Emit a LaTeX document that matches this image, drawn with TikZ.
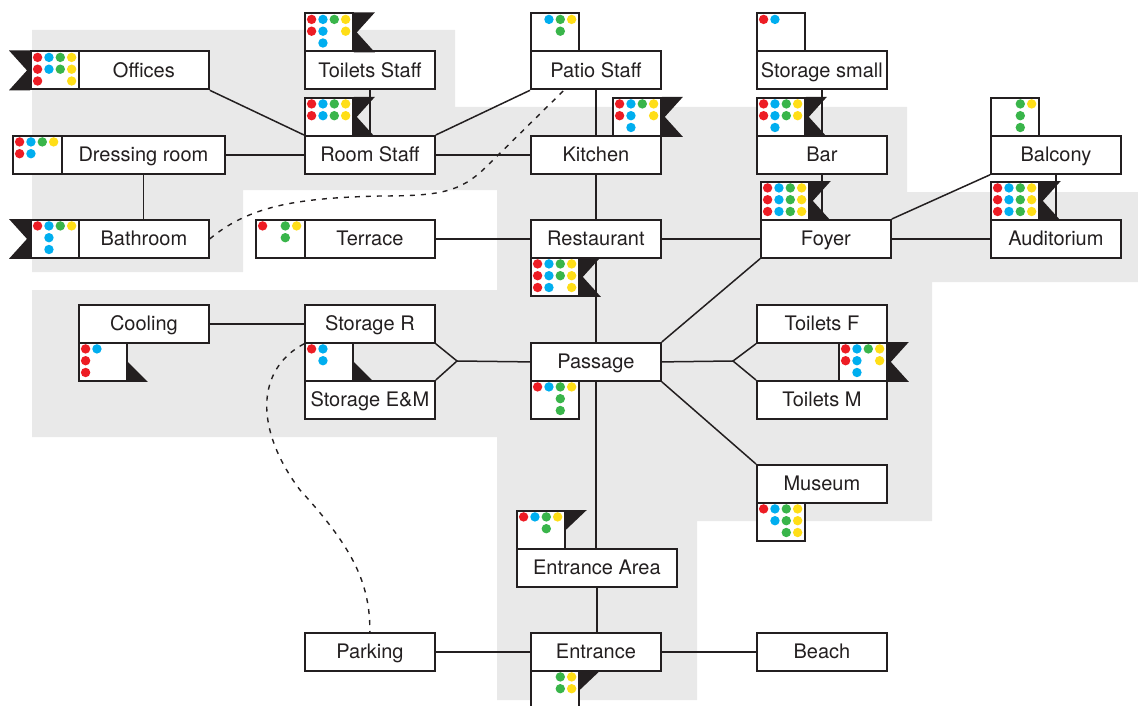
\documentclass[tikz,border=0pt]{standalone}
\usepackage{fontspec}
\setmainfont{TeX Gyre Heros}
\usetikzlibrary{calc}
\definecolor{ink}{HTML}{231F20}
\definecolor{bg}{HTML}{E9E9E9}
\definecolor{cR}{HTML}{ED1C24}
\definecolor{cB}{HTML}{00AEEF}
\definecolor{cG}{HTML}{39B54A}
\definecolor{cY}{HTML}{FFDE17}
\newcommand\dotz[2]{\foreach \cc/\rr/\kk in {#2}{\fill[\kk] ($(#1.north west)+(7.6+11.35*\cc,6.9+11.8*\rr)$) circle[radius=4.7pt];}}
\newcommand\flagR[1]{\fill[ink] (#1.north east) -- ++(21,0) -- ($(#1.east)+(3,0)$) -- ($(#1.south east)+(21,0)$) -- (#1.south east) -- cycle;}
\newcommand\flagL[1]{\fill[ink] (#1.north west) -- ++(-21,0) -- ($(#1.west)+(-3,0)$) -- ($(#1.south west)+(-21,0)$) -- (#1.south west) -- cycle;}
\newcommand\flagLow[1]{\fill[ink] (#1.east) -- ($(#1.south east)+(20,0)$) -- (#1.south east) -- cycle;}
\newcommand\flagUp[1]{\fill[ink] (#1.north east) -- ++(21,0) -- (#1.east) -- cycle;}
\begin{document}
\begin{tikzpicture}[x=1pt,y=-1pt,
  room/.style={draw=ink, line width=1.8pt, fill=white, minimum height=38pt, minimum width=130pt, inner sep=0pt, anchor=north west, text height=14pt, text depth=0pt, font=\fontsize{20}{22}\selectfont, text=ink},
  badge/.style={draw=ink, line width=1.8pt, fill=white, minimum height=38pt, minimum width=48pt, inner sep=0pt, anchor=north west},
  link/.style={draw=ink, line width=1.5pt},
  walk/.style={draw=ink, line width=1.4pt, dash pattern=on 5pt off 6pt},
]
\useasboundingbox (0,0) rectangle (1138,706);
\fill[bg] (32,30) -- (455,30) -- (455,107) -- (907,107) -- (907,192) -- (1138,192) -- (1138,282) -- (932,282) -- (932,521) -- (697,521) -- (697,700) -- (497,700) -- (497,437) -- (32,437) -- (32,290) -- (497,290) -- (497,190) -- (243,190) -- (243,272) -- (32,272) -- cycle;

% rooms
\node[room] (offices) at (78,50.5) {Offices};
\node[room] (toiletsstaff) at (304,50.5) {Toilets Staff};
\node[room] (patio) at (530,50.5) {Patio Staff};
\node[room] (storsmall) at (756,50.5) {Storage small};
\node[room, minimum width=163pt] (dressing) at (61,135) {Dressing room};
\node[room] (roomstaff) at (304,135) {Room Staff};
\node[room] (kitchen) at (530,135) {Kitchen};
\node[room] (bar) at (756,135) {Bar};
\node[room] (balcony) at (990,135) {Balcony};
\node[room] (bathroom) at (78,219) {Bathroom};
\node[room] (terrace) at (304,219) {Terrace};
\node[room] (restaurant) at (530,219) {Restaurant};
\node[room] (foyer) at (760,219) {Foyer};
\node[room] (auditorium) at (990,219) {Auditorium};
\node[room] (cooling) at (78,304) {Cooling};
\node[room] (storR) at (304,304) {Storage R};
\node[room] (toiletsF) at (756,304) {Toilets F};
\node[room] (passage) at (530,342) {Passage};
\node[room] (storEM) at (304,380) {Storage E\&M};
\node[room] (toiletsM) at (756,380) {Toilets M};
\node[room] (museum) at (756,464) {Museum};
\node[room, minimum width=160pt] (entrArea) at (516,548) {Entrance Area};
\node[room] (entrance) at (530,632) {Entrance};
\node[room] (parking) at (304,632) {Parking};
\node[room] (beach) at (756,632) {Beach};

\coordinate (forkL) at (457,361);
\coordinate (forkR) at (733,361);
\coordinate (patioDash) at ($(patio.south)+(-32,0)$);

% connectors
\draw[link] (offices.south east) -- (roomstaff.north west);
\draw[link] (dressing.east) -- (roomstaff.west);
\draw[link] (dressing.south) -- (dressing.south |- bathroom.north);
\draw[link] (toiletsstaff.south) -- (roomstaff.north);
\draw[link] (roomstaff.north east) -- (patio.south west);
\draw[link] (roomstaff.east) -- (kitchen.west);
\draw[link] (patio.south) -- (kitchen.north);
\draw[link] (kitchen.south) -- (restaurant.north);
\draw[link] (storsmall.south) -- (bar.north);
\draw[link] (bar.south) -- (bar.south |- foyer.north);
\draw[link] (balcony.south) -- (auditorium.north);
\draw[link] (terrace.east) -- (restaurant.west);
\draw[link] (restaurant.east) -- (foyer.west);
\draw[link] (foyer.east) -- (auditorium.west);
\draw[link] (foyer.north east) -- (balcony.south west);
\draw[link] (restaurant.south) -- (passage.north);
\draw[link] (cooling.east) -- (storR.west);
\draw[link] (storR.south east) -- (forkL) -- (storEM.north east);
\draw[link] (forkL) -- (passage.west);
\draw[link] (passage.east) -- (forkR);
\draw[link] (toiletsF.south west) -- (forkR) -- (toiletsM.north west);
\draw[link] (passage.north east) -- (foyer.south west);
\draw[link] (passage.south east) -- (museum.north west);
\draw[link] (passage.south) -- (passage.south |- entrArea.north);
\draw[link] (entrArea.south) -- (entrArea.south |- entrance.north);
\draw[link] (parking.east) -- (entrance.west);
\draw[link] (entrance.east) -- (beach.west);

\draw[walk] (bathroom.east) .. controls (250,205) and (300,198) .. (380,196) .. controls (440,196) and (460,192) .. (485,168) -- (patioDash);
\draw[walk] (storR.south west) .. controls (255,370) and (255,430) .. (300,490) .. controls (355,550) and (370,585) .. (parking.north);

% badges
\node[badge] (offB) at (30,50.5) {};
\node[badge] (tsB) at (304,12.5) {};
\node[badge] (rsB) at (304,97) {};
\node[badge] (patB) at (530,12.5) {};
\node[badge] (kitB) at (612,97) {};
\node[badge] (ssB) at (756,12.5) {};
\node[badge] (barB) at (756,97) {};
\node[badge, minimum width=49pt] (drB) at (12,135) {};
\node[badge] (bathB) at (30,219) {};
\node[badge, minimum width=49pt] (terB) at (255,219) {};
\node[badge] (foyB) at (760,181) {};
\node[badge] (balB) at (990,97) {};
\node[badge] (audB) at (990,181) {};
\node[badge] (resB) at (530,257) {};
\node[badge] (coolB) at (78,342) {};
\node[badge] (srB) at (304,342) {};
\node[badge] (tfB) at (838,342) {};
\node[badge] (pasB) at (530,380) {};
\node[badge] (musB) at (756,502) {};
\node[badge] (eaB) at (516,510) {};
\node[badge] (entB) at (530,670) {};

% dots
\dotz{offB}{0/0/cR,1/0/cB,2/0/cG,3/0/cY,0/1/cR,1/1/cB,2/1/cG,3/1/cY,0/2/cR,3/2/cY}
\dotz{tsB}{0/0/cR,1/0/cB,2/0/cG,3/0/cY,0/1/cR,1/1/cB,3/1/cY,1/2/cB}
\dotz{rsB}{0/0/cR,1/0/cB,2/0/cG,3/0/cY,0/1/cR,1/1/cB,2/1/cG,3/1/cY}
\dotz{patB}{1/0/cB,2/0/cG,3/0/cY,2/1/cG}
\dotz{kitB}{0/0/cR,1/0/cB,2/0/cG,3/0/cY,0/1/cR,1/1/cB,3/1/cY,1/2/cB}
\dotz{ssB}{0/0/cR,1/0/cB}
\dotz{barB}{0/0/cR,1/0/cB,2/0/cG,3/0/cY,0/1/cR,1/1/cB,2/1/cG,3/1/cY,1/2/cB}
\dotz{drB}{0/0/cR,1/0/cB,2/0/cG,3/0/cY,0/1/cR,1/1/cB}
\dotz{bathB}{0/0/cR,1/0/cB,2/0/cG,3/0/cY,1/1/cB,1/2/cB}
\dotz{terB}{0/0/cR,2/0/cG,3/0/cY,2/1/cG}
\dotz{foyB}{0/0/cR,1/0/cB,2/0/cG,3/0/cY,0/1/cR,1/1/cB,2/1/cG,3/1/cY,0/2/cR,1/2/cB,2/2/cG,3/2/cY}
\dotz{balB}{2/0/cG,3/0/cY,2/1/cG,2/2/cG}
\dotz{audB}{0/0/cR,1/0/cB,2/0/cG,3/0/cY,0/1/cR,1/1/cB,2/1/cG,3/1/cY,0/2/cR,1/2/cB,2/2/cG,3/2/cY}
\dotz{resB}{0/0/cR,1/0/cB,2/0/cG,3/0/cY,0/1/cR,1/1/cB,2/1/cG,3/1/cY,0/2/cR,1/2/cB,3/2/cY}
\dotz{coolB}{0/0/cR,1/0/cB,0/1/cR,0/2/cR}
\dotz{srB}{0/0/cR,1/0/cB,1/1/cB}
\dotz{tfB}{0/0/cR,1/0/cB,2/0/cG,3/0/cY,0/1/cR,1/1/cB,3/1/cY,1/2/cB}
\dotz{pasB}{0/0/cR,1/0/cB,2/0/cG,3/0/cY,2/1/cG,2/2/cG}
\dotz{musB}{0/0/cR,1/0/cB,2/0/cG,3/0/cY,1/1/cB,2/1/cG,3/1/cY,2/2/cG,3/2/cY}
\dotz{eaB}{0/0/cR,1/0/cB,2/0/cG,3/0/cY,2/1/cG}
\dotz{entB}{2/0/cG,3/0/cY,2/1/cG,3/1/cY}

% flags
\flagL{offB}
\flagR{tsB}
\flagR{rsB}
\flagR{kitB}
\flagR{barB}
\flagL{bathB}
\flagR{foyB}
\flagR{audB}
\flagR{resB}
\flagR{tfB}
\flagLow{coolB}
\flagLow{srB}
\flagUp{eaB}
\flagUp{entB}
\end{tikzpicture}
\end{document}
